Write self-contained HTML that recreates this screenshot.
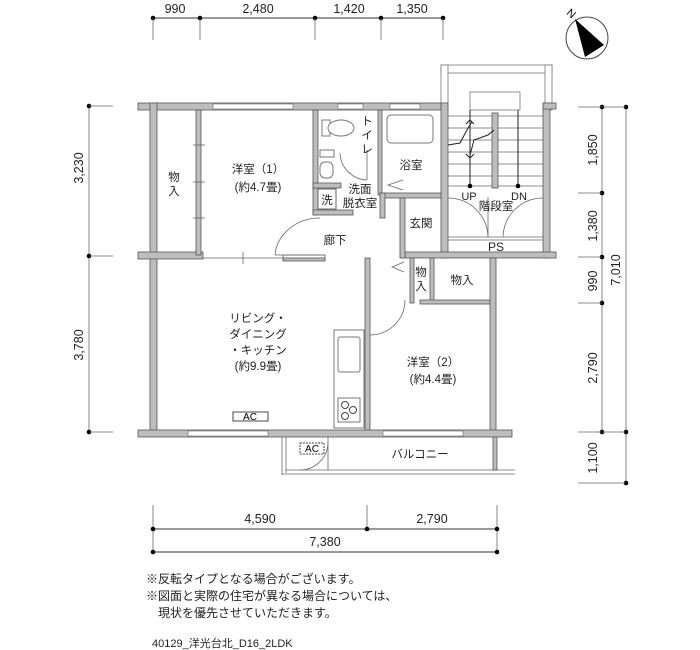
<!DOCTYPE html>
<html><head><meta charset="utf-8"><style>
html,body{margin:0;padding:0;background:#fff;}
svg{display:block;font-family:"Liberation Sans","Noto Sans CJK JP",sans-serif;}
.w{fill:#bdbdbd;stroke:#555;stroke-width:0.8}
.l{stroke:#333;stroke-width:1;fill:none}
.t{stroke:#666;stroke-width:0.8;fill:none}
.j{font-size:11.5px;fill:#222}
.d{font-size:12.5px;fill:#222}
</style></head><body>
<svg width="700" height="650" viewBox="0 0 700 650" xmlns="http://www.w3.org/2000/svg">
<!-- top dims -->
<line class="l" x1="153" y1="18" x2="443" y2="18"/>
<g fill="#000"><circle cx="153" cy="18" r="2.3"/><circle cx="200" cy="18" r="2.3"/><circle cx="315" cy="18" r="2.3"/><circle cx="381" cy="18" r="2.3"/><circle cx="443" cy="18" r="2.3"/></g>
<g class="t"><line x1="153" y1="18" x2="153" y2="40"/><line x1="200" y1="18" x2="200" y2="40"/><line x1="315" y1="18" x2="315" y2="40"/><line x1="381" y1="18" x2="381" y2="40"/><line x1="443" y1="18" x2="443" y2="40"/></g>
<g class="d" text-anchor="middle"><text x="175" y="13">990</text><text x="258" y="13">2,480</text><text x="349" y="13">1,420</text><text x="412" y="13">1,350</text></g>
<!-- compass -->
<circle cx="587" cy="38" r="21" fill="#fff" stroke="#444" stroke-width="1"/>
<polygon points="575,19 604,45 585,57" fill="#000"/>
<text x="568" y="16" font-size="11" transform="rotate(40 570 12)">N</text>
<!-- left dims -->
<line class="t" x1="89" y1="106" x2="89" y2="432"/>
<g fill="#000"><circle cx="89" cy="106" r="2.3"/><circle cx="89" cy="256" r="2.3"/><circle cx="89" cy="432" r="2.3"/></g>
<g class="t"><line x1="89" y1="106" x2="113" y2="106"/><line x1="89" y1="256" x2="113" y2="256"/><line x1="89" y1="432" x2="113" y2="432"/></g>
<g class="d" text-anchor="middle"><text transform="translate(83 168) rotate(-90)">3,230</text><text transform="translate(83 345) rotate(-90)">3,780</text></g>
<!-- right dims -->
<line class="t" x1="602" y1="107" x2="602" y2="432"/>
<line class="t" x1="626" y1="107" x2="626" y2="483"/>
<g fill="#000"><circle cx="602" cy="107" r="2.3"/><circle cx="626" cy="107" r="2.3"/><circle cx="602" cy="193" r="2.3"/><circle cx="602" cy="257" r="2.3"/><circle cx="602" cy="303" r="2.3"/><circle cx="602" cy="432" r="2.3"/><circle cx="626" cy="432" r="2.3"/><circle cx="626" cy="483" r="2.3"/></g>
<g class="t"><line x1="578" y1="107" x2="626" y2="107"/><line x1="578" y1="193" x2="602" y2="193"/><line x1="578" y1="257" x2="602" y2="257"/><line x1="578" y1="303" x2="602" y2="303"/><line x1="578" y1="432" x2="626" y2="432"/><line x1="578" y1="483" x2="626" y2="483"/></g>
<g class="d" text-anchor="middle"><text transform="translate(597 150) rotate(-90)">1,850</text><text transform="translate(597 226) rotate(-90)">1,380</text><text transform="translate(597 281) rotate(-90)">990</text><text transform="translate(597 368) rotate(-90)">2,790</text><text transform="translate(620 270) rotate(-90)">7,010</text><text transform="translate(597 458) rotate(-90)">1,100</text></g>
<!-- bottom dims -->
<g class="t"><line x1="153" y1="505" x2="153" y2="552"/><line x1="367" y1="505" x2="367" y2="529"/><line x1="497" y1="505" x2="497" y2="552"/></g>
<line class="l" x1="153" y1="529" x2="497" y2="529"/><line class="l" x1="153" y1="552" x2="497" y2="552"/>
<g fill="#000"><circle cx="153" cy="529" r="2.3"/><circle cx="367" cy="529" r="2.3"/><circle cx="497" cy="529" r="2.3"/><circle cx="153" cy="552" r="2.3"/><circle cx="497" cy="552" r="2.3"/></g>
<g class="d" text-anchor="middle"><text x="260" y="523">4,590</text><text x="432" y="523">2,790</text><text x="325" y="546">7,380</text></g>
<!-- notes -->
<g font-size="12" fill="#222"><text x="146" y="583">※反転タイプとなる場合がございます。</text><text x="146" y="600">※図面と実際の住宅が異なる場合については、</text><text x="158" y="617">現状を優先させていただきます。</text></g>
<text x="152" y="647" font-size="11" fill="#222">40129_洋光台北_D16_2LDK</text>

<!-- stair enclosure -->
<rect x="441" y="65" width="111" height="8" fill="#fff" stroke="#777" stroke-width="0.8"/>
<rect x="441" y="65" width="7" height="45" fill="#fff" stroke="#777" stroke-width="0.8"/>
<rect x="545" y="65" width="7" height="45" fill="#fff" stroke="#777" stroke-width="0.8"/>
<rect x="470" y="92" width="50" height="18" fill="none" stroke="#777" stroke-width="0.8"/>
<rect class="w" x="441" y="103" width="7" height="155"/>
<rect class="w" x="543" y="103" width="7" height="155"/>
<rect class="w" x="543" y="103" width="13" height="6"/>
<g class="t"><line x1="448" y1="116" x2="543" y2="116"/><line x1="448" y1="128" x2="543" y2="128"/><line x1="448" y1="140" x2="543" y2="140"/><line x1="448" y1="152" x2="543" y2="152"/><line x1="448" y1="164" x2="543" y2="164"/><line x1="448" y1="176" x2="543" y2="176"/><line x1="448" y1="186" x2="543" y2="186"/></g>
<rect class="w" x="492" y="113" width="6" height="75"/>
<g stroke="#222" stroke-width="1" fill="none"><line x1="470" y1="110" x2="470" y2="186"/><line x1="518" y1="110" x2="518" y2="186"/>
<polyline points="448,145 460,143 468,128 472,122"/><polyline points="470,155 474,140 488,135 494,130"/>
<polyline points="466,124 470,120 474,124"/><polyline points="466,154 470,158 474,154"/></g>
<circle cx="470" cy="186" r="2.3" fill="#000"/><circle cx="518" cy="186" r="2.3" fill="#000"/>
<g class="t"><path d="M448,198 A40,40 0 0 1 488,237"/><line x1="488" y1="197" x2="488" y2="237"/><path d="M543,198 A40,40 0 0 0 503,237"/></g>
<line class="t" x1="448" y1="237" x2="543" y2="237"/><line class="t" x1="448" y1="240" x2="543" y2="240"/>
<rect class="w" x="405" y="252" width="151" height="6"/>
<g class="j" text-anchor="middle"><text x="469" y="200" font-size="11">UP</text><text x="519" y="200" font-size="11">DN</text><text x="496" y="210">階段室</text><text x="496" y="251" font-size="12">PS</text></g>

<!-- outer walls -->
<rect class="w" x="138" y="103" width="303" height="7"/>
<rect fill="#fff" stroke="#666" stroke-width="0.6" x="213" y="104" width="80" height="5"/>
<rect fill="#fff" stroke="#666" stroke-width="0.6" x="338" y="104" width="25" height="5"/>
<rect fill="#fff" stroke="#666" stroke-width="0.6" x="390" y="104" width="30" height="5"/>
<rect class="w" x="150" y="103" width="7" height="332"/>
<rect class="w" x="138" y="252" width="65" height="7"/>
<rect class="w" x="196" y="110" width="5" height="145"/>
<line class="t" x1="193" y1="145" x2="205" y2="145"/><line class="t" x1="193" y1="182" x2="205" y2="182"/><line class="t" x1="193" y1="218" x2="205" y2="218"/>
<line class="t" x1="203" y1="258" x2="285" y2="258"/><line class="t" x1="243" y1="252" x2="243" y2="264"/>
<rect fill="#fff" stroke="#555" stroke-width="0.8" x="283" y="255" width="42" height="5"/>
<rect class="w" x="283" y="258" width="42" height="3"/>
<!-- toilet/wash -->
<rect class="w" x="313" y="110" width="5" height="105"/>
<rect class="w" x="313" y="183" width="28" height="5"/>
<rect class="w" x="313" y="210" width="40" height="5"/>
<rect fill="#fff" stroke="#666" x="318" y="189" width="18" height="20"/>
<text class="j" x="327" y="204" text-anchor="middle">洗</text>
<rect fill="#fff" stroke="#777" x="320" y="162" width="13" height="16" rx="5"/>
<rect fill="#fff" stroke="#777" x="320" y="150" width="14" height="7"/>
<rect fill="#fff" stroke="#777" x="322" y="120" width="8" height="16"/>
<ellipse cx="341" cy="128" rx="13" ry="8" fill="#fff" stroke="#777"/>
<path class="t" d="M340,153 A28,28 0 0 0 367,180"/><line class="t" x1="367" y1="150" x2="367" y2="180"/>
<rect class="w" x="378" y="110" width="4" height="85"/>
<rect class="w" x="380" y="193" width="61" height="5"/>
<rect class="w" x="380" y="193" width="5" height="25"/>
<rect fill="#fff" stroke="#777" x="387" y="115" width="46" height="28" rx="4"/>
<polyline class="t" points="403,180 388,185 403,190"/>
<rect class="w" x="400" y="198" width="5" height="60"/>
<!-- corridor / ldk partition -->
<path class="t" d="M320,218 A45,40 0 0 0 275,255"/><line class="t" x1="275" y1="255" x2="320" y2="255"/>
<rect class="w" x="365" y="258" width="5" height="175"/>
<path class="t" d="M405,300 A35,35 0 0 1 370,335"/>
<polyline class="t" points="404,262 392,267 404,272"/>
<rect class="w" x="410" y="258" width="4" height="45"/>
<rect class="w" x="430" y="258" width="4" height="45"/>
<rect class="w" x="420" y="300" width="72" height="4"/>
<rect class="w" x="490" y="258" width="6" height="177"/>
<!-- kitchen -->
<rect fill="#fff" stroke="#777" x="334" y="330" width="30" height="98"/>
<rect fill="#fff" stroke="#777" x="338" y="337" width="22" height="35" rx="2"/>
<rect fill="#fff" stroke="#777" x="338" y="398" width="22" height="24"/>
<g fill="none" stroke="#444"><circle cx="345" cy="405" r="3.5"/><circle cx="353" cy="410" r="3.5"/><circle cx="345" cy="416" r="3.5"/></g>
<rect fill="#fff" stroke="#444" x="233" y="412" width="35" height="9"/>
<text x="250" y="420" font-size="10" text-anchor="middle">AC</text>
<!-- bottom wall -->
<rect class="w" x="138" y="430" width="374" height="7"/>
<rect fill="#fff" stroke="#666" stroke-width="0.6" x="188" y="431" width="80" height="5"/>
<rect fill="#fff" stroke="#666" stroke-width="0.6" x="383" y="431" width="80" height="5"/>
<!-- balcony -->
<line class="t" x1="282" y1="437" x2="282" y2="475"/><line class="t" x1="286" y1="437" x2="286" y2="473"/>
<line class="t" x1="286" y1="470" x2="515" y2="470"/><line class="t" x1="282" y1="474" x2="515" y2="474"/>
<rect class="w" x="493" y="437" width="4" height="33"/>
<path class="t" d="M300,470 A28,28 0 0 0 328,442"/><line class="t" x1="328" y1="437" x2="328" y2="470"/>
<rect fill="#fff" stroke="#444" stroke-dasharray="2,1" x="300" y="443" width="24" height="11"/>
<text x="312" y="452" font-size="10" text-anchor="middle">AC</text>
<!-- labels -->
<g class="j" text-anchor="middle">
<text x="258" y="173">洋室（1）</text><text x="258" y="191">(約4.7畳)</text>
<text x="174" y="181">物</text><text x="174" y="195">入</text>
<text x="367" y="125">ト</text><text x="367" y="139">イ</text><text x="367" y="153">レ</text>
<text x="411" y="169">浴室</text>
<text x="360" y="193">洗面</text><text x="360" y="207">脱衣室</text>
<text x="335" y="244">廊下</text>
<text x="421" y="227">玄関</text>
<text x="421" y="276">物</text><text x="421" y="290">入</text>
<text x="462" y="284">物入</text>
<text x="258" y="322">リビング・</text><text x="258" y="338">ダイニング</text><text x="258" y="354">・キッチン</text><text x="258" y="370">(約9.9畳)</text>
<text x="433" y="366">洋室（2）</text><text x="433" y="383">(約4.4畳)</text>
<text x="420" y="458">バルコニー</text>
</g>
</svg>
</body></html>
